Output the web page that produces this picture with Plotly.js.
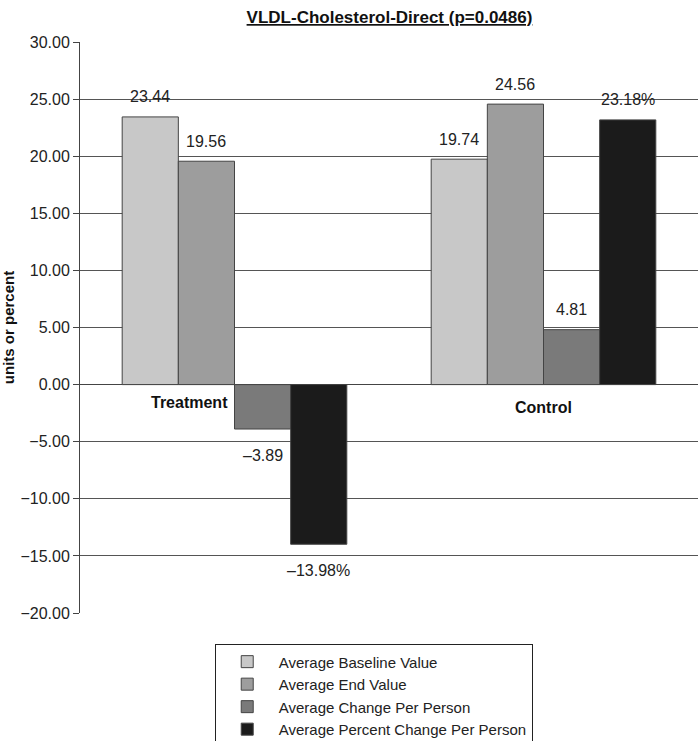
<!DOCTYPE html>
<html>
<head>
<meta charset="utf-8">
<script src="https://cdn.plot.ly/plotly-3.0.1.min.js"></script>
<style>
  html, body { margin: 0; padding: 0; background: #fff; }
  #chart { width: 698px; height: 741px; }
</style>
</head>
<body>
<div id="chart"></div>
<script>
'use strict'

// data
const groups = ['Treatment', 'Control'];
const seriesNames = ['Average Baseline Value', 'Average End Value', 'Average Change Per Person', 'Average Percent Change Per Person'];
const baseline = [23.44, 19.74];
const endValue = [19.56, 24.56];
const change = [-3.89, 4.81];
const pctChange = [-13.98, 23.18];
const suffixes = ['', '', '', '%'];
const yTicks = [30, 25, 20, 15, 10, 5, 0, -5, -10, -15, -20];

const colors = ['#c8c8c8', '#9d9d9d', '#7a7a7a', '#1b1b1b'];
const allSeries = [baseline, endValue, change, pctChange];

const font = 'Liberation Sans, Arial, sans-serif';
const bargap = 0.273;
const barW = (1 - bargap) / allSeries.length;

function fmt(v, suffix) {
    let s = Math.abs(v).toFixed(2) + suffix;
    return v < 0 ? '\u2013' + s : s;
}

let traces = allSeries.map(function(vals, i) {
    return {
        type: 'bar',
        name: seriesNames[i],
        x: groups,
        y: vals,
        marker: { color: colors[i], line: { color: '#444', width: 1 } },
        hoverinfo: 'skip'
    };
});

// value labels, placed over/under each bar
let annotations = [];
allSeries.forEach(function(vals, i) {
    vals.forEach(function(v, j) {
        annotations.push({
            x: j + (i - 1.5) * barW,
            y: v,
            xref: 'x', yref: 'y',
            text: fmt(v, suffixes[i]),
            showarrow: false,
            yanchor: 'middle',
            yshift: v >= 0 ? 20 : -26,
            font: { family: font, size: 16, color: '#222' }
        });
    });
});

// category labels sit at the zero line like in the original
groups.forEach(function(g, j) {
    annotations.push({
        x: j === 0 ? j - 0.015 : j,
        y: 0,
        xref: 'x', yref: 'y',
        text: '<b>' + g + '</b>',
        showarrow: false,
        xanchor: j === 0 ? 'right' : 'center',
        yanchor: 'middle',
        yshift: j === 0 ? -18 : -23,
        font: { family: font, size: 16, color: '#111' }
    });
});

let layout = {
    width: 698,
    height: 741,
    margin: { l: 80, r: 0, t: 42, b: 128, autoexpand: false },
    paper_bgcolor: '#fff',
    plot_bgcolor: '#fff',
    barmode: 'group',
    bargap: bargap,
    bargroupgap: 0,
    showlegend: true,
    title: {
        text: '<b><u>VLDL-Cholesterol-Direct (p=0.0486)</u></b>',
        x: 0.558, xanchor: 'center',
        y: 0.985, yanchor: 'top',
        font: { family: font, size: 17, color: '#111' }
    },
    xaxis: {
        type: 'category',
        showticklabels: false,
        showgrid: false,
        zeroline: false,
        showline: false,
        ticks: '',
        range: [-0.5, 1.5]
    },
    yaxis: {
        range: [-20, 30],
        tickvals: yTicks,
        tickformat: '.2f',
        ticks: 'outside',
        ticklen: 6,
        tickcolor: '#444',
        showline: true,
        linecolor: '#444',
        linewidth: 1,
        showgrid: true,
        gridcolor: '#555',
        gridwidth: 1,
        zeroline: true,
        zerolinecolor: '#444',
        zerolinewidth: 1,
        tickfont: { family: font, size: 16, color: '#222' },
        title: {
            text: '<b>units or percent</b>',
            standoff: 12,
            font: { family: font, size: 15, color: '#111' }
        }
    },
    legend: {
        x: 0.218, xanchor: 'left',
        y: -0.055, yanchor: 'top',
        orientation: 'v',
        bordercolor: '#222',
        borderwidth: 1,
        bgcolor: '#fff',
        tracegroupgap: 0,
        itemwidth: 53,
        font: { family: font, size: 15, color: '#222' }
    },
    annotations: annotations
};

Plotly.newPlot('chart', traces, layout, { displayModeBar: false, staticPlot: true });
</script>
</body>
</html>
